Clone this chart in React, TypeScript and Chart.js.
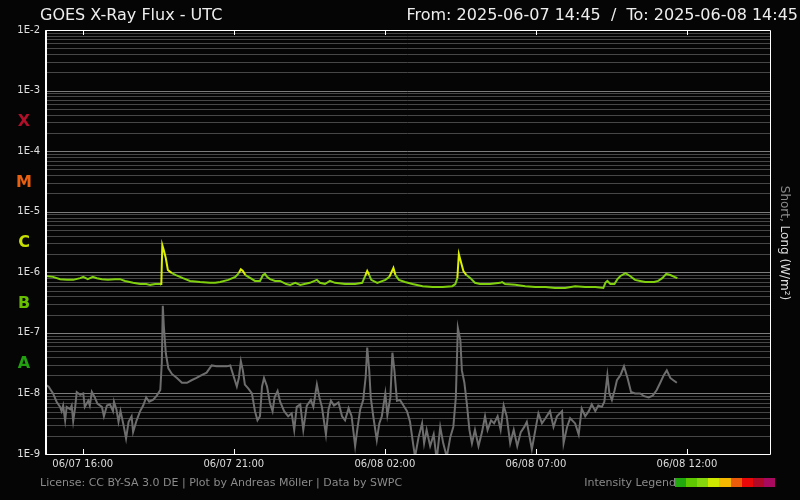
import React, { useEffect, useRef } from 'react';
import { Chart, registerables } from 'chart.js';

Chart.register(...registerables);

// ---- text ----
const TITLE = 'GOES X-Ray Flux - UTC';
const RANGE_TEXT = 'From: 2025-06-07 14:45  /  To: 2025-06-08 14:45';
const FOOTER = 'License: CC BY-SA 3.0 DE | Plot by Andreas Möller | Data by SWPC';
const LEGEND_TITLE = 'Intensity Legend';
const AXIS_TITLE_A = 'Short, ';
const AXIS_TITLE_B = 'Long (W/m²)';

// ---- axes (x in minutes after 2025-06-07 14:45 UTC) ----
const X_MIN = 0;
const X_MAX = 1440;
const X_TICK_MINUTES = [75, 375, 675, 975, 1275];
const X_TICK_LABELS = ['06/07 16:00', '06/07 21:00', '06/08 02:00', '06/08 07:00', '06/08 12:00'];
const Y_EXPONENTS = [-9, -8, -7, -6, -5, -4, -3, -2];
const Y_MULTIPLIERS = [1, 2, 3, 4, 5, 6, 7, 8, 9];

// ---- flare classes ----
const CLASS_LETTERS = ['A', 'B', 'C', 'M', 'X'];
const CLASS_EXPONENTS = [-8, -7, -6, -5, -4];
const CLASS_COLORS = ['#22a010', '#66c000', '#c8e000', '#e86010', '#b0102a'];
const LEGEND_COLORS = ['#22a90e', '#5ec800', '#86d60e', '#cfe800', '#f4b800', '#ea5c0a', '#e80808', '#b00a28', '#a80a60'];

// ---- long channel (0.1-0.8 nm) ----
const longMinutes = [
  0, 16, 30, 44, 56, 70, 76, 85, 95, 103, 113, 125, 139, 149, 159, 175, 189, 201, 209, 219,
  229, 231, 233, 236, 240, 244, 252, 260, 274, 288, 308, 328, 338, 348, 364, 378, 385, 389, 393, 398,
  408, 417, 427, 433, 437, 441, 447, 457, 467, 479, 487, 497, 507, 526, 540, 546, 556, 566, 576, 596,
  616, 630, 636, 640, 644, 648, 660, 676, 684, 688, 692, 696, 703, 715, 730, 750, 770, 790, 809, 815,
  819, 822, 827, 831, 837, 845, 854, 864, 884, 904, 908, 914, 934, 954, 974, 994, 1013, 1033, 1053, 1073,
  1093, 1109, 1113, 1117, 1123, 1131, 1137, 1143, 1153, 1162, 1172, 1182, 1192, 1210, 1218, 1226, 1234, 1242, 1250, 1256,
];
const longValues = [
  8.7e-7, 8.4e-7, 7.7e-7, 7.5e-7, 7.5e-7, 8.0e-7, 8.4e-7, 7.7e-7, 8.4e-7, 8.0e-7, 7.7e-7, 7.5e-7, 7.7e-7, 7.7e-7, 7.2e-7, 6.7e-7, 6.4e-7, 6.4e-7, 6.2e-7, 6.4e-7,
  6.4e-7, 6.2e-7, 2.8e-6, 2.3e-6, 1.7e-6, 1.09e-6, 9.7e-7, 9.0e-7, 8.0e-7, 7.2e-7, 6.9e-7, 6.7e-7, 6.7e-7, 6.9e-7, 7.5e-7, 8.4e-7, 9.7e-7, 1.12e-6, 1.05e-6, 9.0e-7,
  8.0e-7, 7.2e-7, 7.2e-7, 9.0e-7, 9.4e-7, 8.4e-7, 7.7e-7, 7.2e-7, 7.2e-7, 6.4e-7, 6.2e-7, 6.7e-7, 6.2e-7, 6.7e-7, 7.5e-7, 6.7e-7, 6.4e-7, 7.2e-7, 6.7e-7, 6.4e-7,
  6.4e-7, 6.7e-7, 8.7e-7, 1.05e-6, 9.0e-7, 7.5e-7, 6.7e-7, 7.5e-7, 8.4e-7, 1.0e-6, 1.18e-6, 9.0e-7, 7.5e-7, 6.9e-7, 6.4e-7, 5.9e-7, 5.7e-7, 5.7e-7, 5.9e-7, 6.4e-7,
  8.0e-7, 2.0e-6, 1.4e-6, 1.05e-6, 9.0e-7, 8.0e-7, 6.7e-7, 6.4e-7, 6.4e-7, 6.7e-7, 6.9e-7, 6.4e-7, 6.2e-7, 5.9e-7, 5.7e-7, 5.7e-7, 5.5e-7, 5.5e-7, 5.9e-7, 5.7e-7,
  5.7e-7, 5.5e-7, 6.7e-7, 7.2e-7, 6.4e-7, 6.4e-7, 7.7e-7, 8.7e-7, 9.7e-7, 8.7e-7, 7.5e-7, 7.2e-7, 6.9e-7, 6.9e-7, 7.2e-7, 8.0e-7, 9.4e-7, 9.0e-7, 8.4e-7, 8.0e-7,
];

// ---- short channel (0.05-0.4 nm) ----
const shortMinutes = [
  0, 7, 16, 23, 30, 33, 36, 40, 43, 50, 53, 56, 60, 63, 70, 76, 79, 86, 89, 93,
  99, 104, 113, 117, 123, 129, 135, 137, 142, 146, 150, 156, 161, 166, 172, 175, 182, 189, 195, 201,
  207, 215, 222, 229, 232, 234, 236, 240, 245, 252, 262, 272, 282, 291, 301, 311, 321, 331, 341, 351,
  361, 368, 374, 381, 385, 389, 393, 397, 404, 411, 417, 422, 427, 431, 435, 441, 447, 452, 456, 462,
  467, 475, 483, 490, 495, 500, 507, 513, 520, 528, 533, 540, 545, 550, 558, 563, 568, 574, 583, 590,
  596, 603, 609, 616, 621, 626, 632, 637, 640, 644, 647, 652, 659, 664, 669, 676, 680, 686, 690, 694,
  699, 705, 712, 719, 725, 731, 735, 742, 749, 753, 758, 765, 772, 778, 785, 791, 798, 805, 811, 816,
  820, 825, 828, 833, 838, 843, 848, 854, 861, 868, 874, 879, 886, 892, 899, 905, 911, 917, 924, 931,
  938, 945, 952, 957, 967, 974, 980, 987, 994, 1003, 1010, 1017, 1027, 1030, 1037, 1043, 1053, 1060, 1066, 1073,
  1080, 1086, 1093, 1099, 1106, 1111, 1117, 1121, 1126, 1131, 1136, 1143, 1150, 1157, 1164, 1172, 1182, 1190, 1199, 1207,
  1215, 1222, 1229, 1235, 1242, 1248, 1255,
];
const shortValues = [
  1.4e-8, 1.3e-8, 1.0e-8, 7.3e-9, 6.0e-9, 5.1e-9, 6.3e-9, 3.6e-9, 6.0e-9, 5.5e-9, 6.3e-9, 3.5e-9, 6.0e-9, 1.05e-8, 9.5e-9, 1.0e-8, 6.0e-9, 7.6e-9, 6.3e-9, 1.06e-8,
  8.6e-9, 6.8e-9, 6.0e-9, 4.2e-9, 6.3e-9, 6.6e-9, 5.1e-9, 7.3e-9, 5.4e-9, 3.4e-9, 5.1e-9, 3.0e-9, 1.8e-9, 3.4e-9, 4.2e-9, 2.3e-9, 3.6e-9, 5.1e-9, 6.3e-9, 8.6e-9,
  7.3e-9, 7.9e-9, 9.2e-9, 1.14e-8, 3.2e-8, 2.8e-7, 1.3e-7, 4.6e-8, 2.6e-8, 2.1e-8, 1.8e-8, 1.5e-8, 1.5e-8, 1.65e-8, 1.8e-8, 2.0e-8, 2.2e-8, 2.9e-8, 2.8e-8, 2.8e-8,
  2.8e-8, 2.9e-8, 2.0e-8, 1.3e-8, 1.8e-8, 3.4e-8, 2.4e-8, 1.4e-8, 1.2e-8, 1.0e-8, 5.1e-9, 3.6e-9, 4.2e-9, 1.3e-8, 1.8e-8, 1.3e-8, 6.8e-9, 5.1e-9, 8.6e-9, 1.1e-8,
  7.3e-9, 5.1e-9, 4.2e-9, 4.7e-9, 2.5e-9, 6.0e-9, 6.6e-9, 2.5e-9, 6.3e-9, 7.8e-9, 6.0e-9, 1.4e-8, 8.6e-9, 6.0e-9, 2.1e-9, 5.4e-9, 7.6e-9, 6.3e-9, 7.1e-9, 4.2e-9,
  3.6e-9, 5.7e-9, 4.2e-9, 1.35e-9, 2.8e-9, 5.4e-9, 7.8e-9, 1.9e-8, 5.7e-8, 2.4e-8, 8.6e-9, 4.2e-9, 1.7e-9, 3.2e-9, 4.2e-9, 1.0e-8, 4.4e-9, 8.6e-9, 4.7e-8, 2.4e-8,
  7.6e-9, 7.8e-9, 6.3e-9, 5.1e-9, 3.4e-9, 1.5e-9, 9.0e-10, 1.9e-9, 3.2e-9, 1.5e-9, 2.5e-9, 1.35e-9, 2.1e-9, 8.0e-10, 2.8e-9, 1.5e-9, 9.0e-10, 1.9e-9, 2.8e-9, 8.6e-9,
  1.2e-7, 7.5e-8, 2.4e-8, 1.5e-8, 6.6e-9, 2.5e-9, 1.5e-9, 2.5e-9, 1.35e-9, 2.3e-9, 4.2e-9, 2.5e-9, 3.6e-9, 3.2e-9, 4.2e-9, 2.5e-9, 6.3e-9, 4.2e-9, 1.5e-9, 2.5e-9,
  1.35e-9, 2.3e-9, 2.8e-9, 3.4e-9, 1.2e-9, 2.5e-9, 4.7e-9, 3.2e-9, 3.9e-9, 5.1e-9, 2.8e-9, 4.2e-9, 5.1e-9, 1.5e-9, 2.8e-9, 3.9e-9, 3.2e-9, 2.1e-9, 5.6e-9, 4.2e-9,
  5.1e-9, 6.6e-9, 5.1e-9, 6.3e-9, 6.0e-9, 7.3e-9, 2.0e-8, 1.0e-8, 7.8e-9, 1.1e-8, 1.65e-8, 2.0e-8, 2.8e-8, 1.8e-8, 1.06e-8, 1.0e-8, 1.0e-8, 9.0e-9, 8.6e-9, 9.2e-9,
  1.14e-8, 1.5e-8, 2.0e-8, 2.4e-8, 1.8e-8, 1.65e-8, 1.5e-8,
];

const FONT = '"DejaVu Sans", sans-serif';
const BG = '#050505';

const isMajor = (v: number) => {
  const l = Math.log10(v);
  return Math.abs(l - Math.round(l)) < 1e-6;
};

const yTickValues: number[] = [];
Y_EXPONENTS.forEach((e) => {
  if (e === -2) {
    yTickValues.push(Math.pow(10, e));
  } else {
    Y_MULTIPLIERS.forEach((m) => yTickValues.push(parseFloat((m * Math.pow(10, e)).toPrecision(3))));
  }
});

const decorPlugin = {
  id: 'decor',
  beforeDraw(chart: any) {
    const { ctx, width, height } = chart;
    ctx.save();
    ctx.fillStyle = BG;
    ctx.fillRect(0, 0, width, height);
    ctx.restore();
  },
  beforeDatasetsDraw(chart: any) {
    const { ctx, chartArea: a, scales } = chart;
    const y = scales.y;
    ctx.save();
    ctx.lineWidth = 1;
    y.ticks.forEach((t: any) => {
      const py = Math.round(y.getPixelForValue(t.value)) + 0.5;
      ctx.strokeStyle = isMajor(t.value) ? '#7c7c7c' : '#474747';
      ctx.beginPath();
      ctx.moveTo(a.left, py);
      ctx.lineTo(a.right, py);
      ctx.stroke();
    });
    ctx.restore();
  },
  afterDatasetsDraw(chart: any) {
    const { ctx, chartArea: a, scales } = chart;
    const x = scales.x;
    ctx.save();
    ctx.strokeStyle = '#ffffff';
    ctx.lineWidth = 1;
    ctx.beginPath();
    ctx.rect(Math.round(a.left) + 0.5, Math.round(a.top) + 0.5, Math.round(a.right - a.left), Math.round(a.bottom - a.top));
    ctx.stroke();
    ctx.beginPath();
    ctx.moveTo(Math.round(a.left) + 1.5, a.top);
    ctx.lineTo(Math.round(a.left) + 1.5, a.bottom);
    ctx.stroke();
    X_TICK_MINUTES.forEach((m) => {
      const px = Math.round(x.getPixelForValue(m)) + 0.5;
      ctx.beginPath();
      ctx.moveTo(px, a.top);
      ctx.lineTo(px, a.top + 5);
      ctx.moveTo(px, a.bottom);
      ctx.lineTo(px, a.bottom - 5);
      ctx.stroke();
    });
    ctx.restore();
  },
  afterDraw(chart: any) {
    const { ctx, chartArea: a, scales } = chart;
    const y = scales.y;
    ctx.save();
    // titles
    ctx.fillStyle = '#eeeeee';
    ctx.font = `16px ${FONT}`;
    ctx.textBaseline = 'alphabetic';
    ctx.textAlign = 'left';
    ctx.fillText(TITLE, 40, 20);
    ctx.textAlign = 'right';
    ctx.fillText(RANGE_TEXT, 798, 20);
    // class letters
    ctx.font = `bold 16px ${FONT}`;
    ctx.textAlign = 'center';
    ctx.textBaseline = 'middle';
    CLASS_LETTERS.forEach((c, i) => {
      ctx.fillStyle = CLASS_COLORS[i];
      ctx.fillText(c, 24, y.getPixelForValue(Math.pow(10, CLASS_EXPONENTS[i] + 0.5)) + 1);
    });
    // right axis title
    ctx.font = `12px ${FONT}`;
    const wA = ctx.measureText(AXIS_TITLE_A).width;
    const wB = ctx.measureText(AXIS_TITLE_B).width;
    const cy = (a.top + a.bottom) / 2 + 1;
    ctx.translate(784, cy);
    ctx.rotate(Math.PI / 2);
    ctx.textAlign = 'left';
    ctx.textBaseline = 'middle';
    const start = -(wA + wB) / 2;
    ctx.fillStyle = '#8a8a8a';
    ctx.fillText(AXIS_TITLE_A, start, 0);
    ctx.fillStyle = '#dddddd';
    ctx.fillText(AXIS_TITLE_B, start + wA, 0);
    ctx.setTransform(1, 0, 0, 1, 0, 0);
    // footer
    ctx.font = `11px ${FONT}`;
    ctx.textBaseline = 'alphabetic';
    ctx.textAlign = 'left';
    ctx.fillStyle = '#8a8a8a';
    ctx.fillText(FOOTER, 40, 486);
    ctx.textAlign = 'right';
    ctx.fillText(LEGEND_TITLE, 676, 486);
    const lx = 675;
    const lw = 100 / LEGEND_COLORS.length;
    LEGEND_COLORS.forEach((c, i) => {
      ctx.fillStyle = c;
      const x0 = Math.round(lx + i * lw);
      const x1 = Math.round(lx + (i + 1) * lw);
      ctx.fillRect(x0, 478, x1 - x0, 9);
    });
    ctx.restore();
  },
};

export default function App() {
  const ref = useRef<HTMLCanvasElement>(null);
  useEffect(() => {
    const canvas = ref.current;
    if (!canvas) return;
    const longData = longMinutes.map((m, i) => ({ x: m, y: longValues[i] }));
    const shortData = shortMinutes.map((m, i) => ({ x: m, y: shortValues[i] }));
    const chart = new Chart(canvas, {
      type: 'line',
      data: {
        datasets: [
          {
            label: 'Short',
            data: shortData,
            borderColor: '#6e6e6e',
            borderWidth: 2,
            pointRadius: 0,
            tension: 0,
            fill: false,
          },
          {
            label: 'Long',
            data: longData,
            borderColor: '#80d010',
            borderWidth: 2,
            pointRadius: 0,
            tension: 0,
            fill: false,
            segment: {
              borderColor: (c: any) => (Math.max(c.p0.parsed.y, c.p1.parsed.y) >= 1e-6 ? '#dcf000' : '#80d010'),
            },
          },
        ],
      },
      options: {
        responsive: false,
        devicePixelRatio: 1,
        animation: false,
        layout: { padding: { top: 30, right: 30, left: 0, bottom: 0 } },
        plugins: {
          legend: { display: false },
          tooltip: { enabled: false },
          title: { display: false },
        },
        scales: {
          x: {
            type: 'linear',
            min: X_MIN,
            max: X_MAX,
            grid: { display: false, drawTicks: false },
            border: { display: false },
            afterBuildTicks: (scale: any) => {
              scale.ticks = X_TICK_MINUTES.map((v) => ({ value: v }));
            },
            afterFit: (scale: any) => {
              scale.height = 46;
            },
            ticks: {
              autoSkip: false,
              maxRotation: 0,
              padding: 4,
              color: '#dddddd',
              font: { family: FONT, size: 10 },
              callback: (v: any) => X_TICK_LABELS[X_TICK_MINUTES.indexOf(Number(v))] ?? '',
            },
          },
          y: {
            type: 'logarithmic',
            min: 1e-9,
            max: 1e-2,
            grid: { display: false, drawTicks: false },
            border: { display: false },
            afterBuildTicks: (scale: any) => {
              scale.ticks = yTickValues.map((v) => ({ value: v, major: isMajor(v) }));
            },
            afterFit: (scale: any) => {
              scale.width = 45;
            },
            ticks: {
              autoSkip: false,
              padding: 5,
              color: '#e0e0e0',
              font: { family: FONT, size: 10 },
              callback: (v: any) => (isMajor(Number(v)) ? '1E' + Math.round(Math.log10(Number(v))) : ''),
            },
          },
        },
      },
      plugins: [decorPlugin],
    } as any);
    return () => chart.destroy();
  }, []);
  return (
    <div style={{ position: 'fixed', left: 0, top: 0, width: 800, height: 500, background: BG }}>
      <canvas ref={ref} width={800} height={500} style={{ display: 'block', width: 800, height: 500 }} />
    </div>
  );
}
